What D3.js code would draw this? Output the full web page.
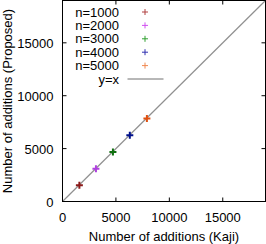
<!DOCTYPE html>
<html><head><meta charset="utf-8">
<script src="https://cdn.jsdelivr.net/npm/d3@7"></script>
<style>body{margin:0;background:#fff}svg{display:block}text{font-family:"Liberation Sans",Arial,sans-serif;font-size:13px;fill:#000}</style>
</head><body><svg id="c" width="266" height="244"></svg>
<script>
const series = ["n=1000","n=2000","n=3000","n=4000","n=5000"];
const kaji = [1580, 3130, 4720, 6300, 7900];
const proposed = [1540, 3100, 4680, 6260, 7840];
const pointColors = ["#8b1a1a","#b040e0","#107010","#00108a","#e05010"];
const legendColors = ["#b04040","#d050f0","#30a030","#3030b0","#f08850"];
const ticks = [0, 5000, 10000, 15000];
const domainMax = 19000;

const svg = d3.select("#c");
const L=62.5, R=265.5, T=0.5, B=201.5;
const x = d3.scaleLinear().domain([0,domainMax]).range([L,R]);
const y = d3.scaleLinear().domain([0,domainMax]).range([B,T]);

// y=x line
svg.append("line").attr("x1",x(0)).attr("y1",y(0)).attr("x2",x(domainMax)).attr("y2",y(domainMax))
  .attr("stroke","#909090").attr("stroke-width",1.2);

// ticks inward on all sides
const tl=4;
ticks.forEach(t=>{
  svg.append("line").attr("x1",x(t)).attr("x2",x(t)).attr("y1",B).attr("y2",B-tl).attr("stroke","#000");
  svg.append("line").attr("x1",x(t)).attr("x2",x(t)).attr("y1",T).attr("y2",T+tl).attr("stroke","#000");
  svg.append("line").attr("y1",y(t)).attr("y2",y(t)).attr("x1",L).attr("x2",L+tl).attr("stroke","#000");
  svg.append("line").attr("y1",y(t)).attr("y2",y(t)).attr("x1",R).attr("x2",R-tl).attr("stroke","#000");
  svg.append("text").attr("x",x(t)).attr("y",B+20).attr("text-anchor","middle").text(t);
  svg.append("text").attr("x",L-9).attr("y",y(t)+5).attr("text-anchor","end").text(t);
});

// legend
const lx = 119, ly0 = 12, ldy = 13.4;
series.forEach((s,i)=>{
  const yy = ly0 + i*ldy;
  svg.append("text").attr("x",lx).attr("y",yy+4.5).attr("text-anchor","end").text(s);
  const px=145;
  svg.append("path").attr("d",`M${px-3},${yy}H${px+3}M${px},${yy-3}V${yy+3}`)
    .attr("stroke",legendColors[i]).attr("stroke-width",1);
});
{
  const yy = ly0 + 5*ldy;
  svg.append("text").attr("x",lx).attr("y",yy+4.5).attr("text-anchor","end").text("y=x");
  svg.append("line").attr("x1",127.5).attr("x2",163.5).attr("y1",yy).attr("y2",yy).attr("stroke","#707070").attr("stroke-width",1);
}

// points
series.forEach((s,i)=>{
  const cx=x(kaji[i]), cy=y(proposed[i]);
  svg.append("path").attr("d",`M${cx-3.5},${cy}H${cx+3.5}M${cx},${cy-3.5}V${cy+3.5}`)
    .attr("stroke",pointColors[i]).attr("stroke-width",2);
});

// frame
svg.append("rect").attr("x",L).attr("y",T).attr("width",R-L).attr("height",B-T).attr("fill","none").attr("stroke","#000");

// axis titles
svg.append("text").attr("x",(L+R)/2).attr("y",240.5).attr("text-anchor","middle").text("Number of additions (Kaji)");
svg.append("text").attr("transform",`translate(11.5,${(T+B)/2}) rotate(-90)`).attr("text-anchor","middle").text("Number of additions (Proposed)");
</script></body></html>
